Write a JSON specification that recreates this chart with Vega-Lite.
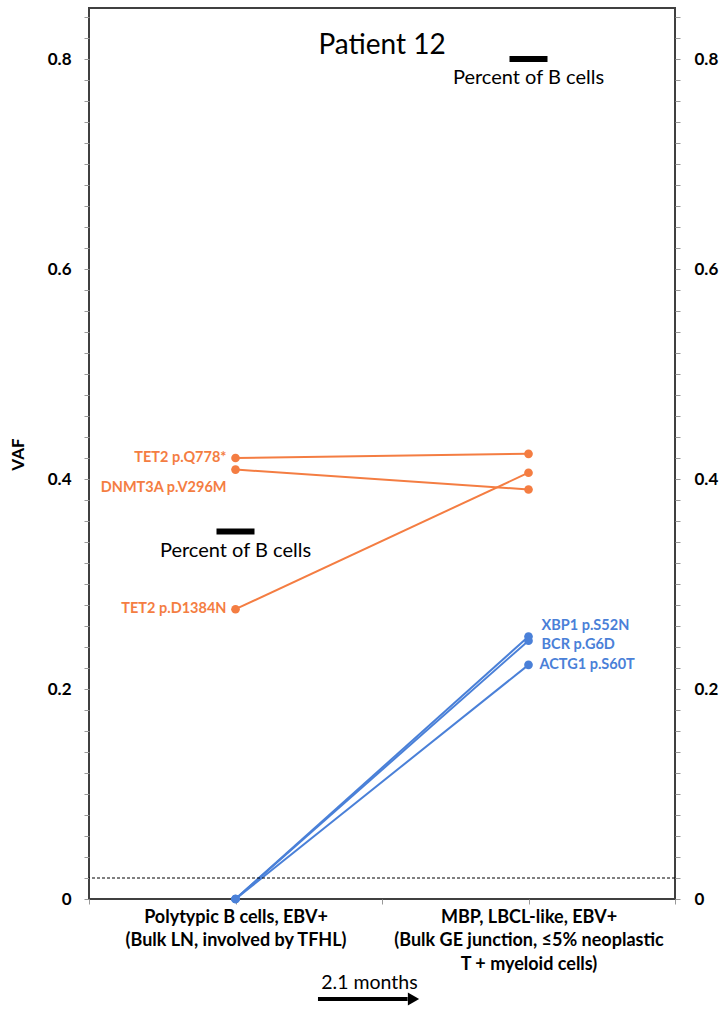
{
  "$schema": "https://vega.github.io/schema/vega-lite/v6.json",
  "width": 586,
  "height": 891,
  "autosize": {"type": "none"},
  "padding": {"left": 89, "top": 8, "right": 50, "bottom": 112},
  "config": {
    "view": {"stroke": "#404040", "strokeWidth": 2},
    "font": "Lato",
    "axis": {"grid": false, "domain": false, "tickColor": "#999999", "tickSize": 5, "labelColor": "#000000", "titleColor": "#000000"}
  },
  "title": {"text": "Patient 12", "offset": -52, "fontSize": 28, "font": "Lato", "fontWeight": "normal", "color": "#000000", "anchor": "middle"},
  "datasets": {
    "vaf": [
      {"mutation": "TET2 p.Q778*", "origin": "clonal hematopoiesis", "stage": 1, "vaf": 0.420},
      {"mutation": "TET2 p.Q778*", "origin": "clonal hematopoiesis", "stage": 3, "vaf": 0.424},
      {"mutation": "DNMT3A p.V296M", "origin": "clonal hematopoiesis", "stage": 1, "vaf": 0.409},
      {"mutation": "DNMT3A p.V296M", "origin": "clonal hematopoiesis", "stage": 3, "vaf": 0.390},
      {"mutation": "TET2 p.D1384N", "origin": "clonal hematopoiesis", "stage": 1, "vaf": 0.276},
      {"mutation": "TET2 p.D1384N", "origin": "clonal hematopoiesis", "stage": 3, "vaf": 0.406},
      {"mutation": "XBP1 p.S52N", "origin": "B cell", "stage": 1, "vaf": 0.0},
      {"mutation": "XBP1 p.S52N", "origin": "B cell", "stage": 3, "vaf": 0.250},
      {"mutation": "BCR p.G6D", "origin": "B cell", "stage": 1, "vaf": 0.0},
      {"mutation": "BCR p.G6D", "origin": "B cell", "stage": 3, "vaf": 0.246},
      {"mutation": "ACTG1 p.S60T", "origin": "B cell", "stage": 1, "vaf": 0.0},
      {"mutation": "ACTG1 p.S60T", "origin": "B cell", "stage": 3, "vaf": 0.223}
    ],
    "bcells": [
      {"stage": 1, "pct_b": 0.35},
      {"stage": 3, "pct_b": 0.80}
    ]
  },
  "resolve": {"axis": {"y": "independent", "x": "independent"}},
  "layer": [
    {
      "data": {"name": "vaf"},
      "mark": {"type": "line", "strokeWidth": 2},
      "encoding": {
        "x": {
          "field": "stage", "type": "quantitative",
          "scale": {"domain": [0, 4], "nice": false, "zero": false},
          "axis": {
            "values": [0, 1, 2, 3, 4],
            "labelExpr": "datum.value == 1 ? ['Polytypic B cells, EBV+', '(Bulk LN, involved by TFHL)'] : datum.value == 3 ? ['MBP, LBCL-like, EBV+', '(Bulk GE junction, ≤5% neoplastic', 'T + myeloid cells)'] : ''",
            "labelFontSize": 18, "labelFontWeight": "bold", "labelLineHeight": 23.5,
            "labelPadding": 4, "labelOverlap": false, "labelBound": false, "labelFlush": false, "labelLimit": 0,
            "labelBaseline": "top",
            "title": "2.1 months", "titleFontSize": 19.5, "titleFontWeight": "normal",
            "titleX": 280, "titleY": 89, "titleBaseline": "alphabetic", "titleAlign": "center"
          }
        },
        "y": {
          "field": "vaf", "type": "quantitative",
          "scale": {"domain": [0, 0.8486], "nice": false, "zero": false},
          "axis": {
            "orient": "left",
            "values": [0,0.02,0.04,0.06,0.08,0.1,0.12,0.14,0.16,0.18,0.2,0.22,0.24,0.26,0.28,0.3,0.32,0.34,0.36,0.38,0.4,0.42,0.44,0.46,0.48,0.5,0.52,0.54,0.56,0.58,0.6,0.62,0.64,0.66,0.68,0.7,0.72,0.74,0.76,0.78,0.8,0.82,0.84],
            "labelExpr": "abs(datum.value*5 - round(datum.value*5)) < 0.001 ? (datum.value == 0 ? '0' : format(datum.value, '.1f')) : ''",
            "labelFontSize": 17, "labelFontWeight": "bold", "labelPadding": 13, "labelOverlap": false,
            "title": "VAF", "titleFontSize": 17, "titleFontWeight": "bold",
            "titleX": -71, "titleY": 446, "titleAngle": -90, "titleAlign": "center", "titleBaseline": "middle"
          }
        },
        "detail": {"field": "mutation"},
        "color": {"field": "origin", "type": "nominal", "scale": {"domain": ["clonal hematopoiesis", "B cell"], "range": ["#F47D42", "#4A80D8"]}, "legend": null}
      }
    },
    {
      "data": {"name": "vaf"},
      "mark": {"type": "circle", "size": 75, "opacity": 1},
      "encoding": {
        "x": {"field": "stage", "type": "quantitative", "axis": null},
        "y": {
          "field": "vaf", "type": "quantitative",
          "axis": {
            "orient": "right",
            "values": [0,0.02,0.04,0.06,0.08,0.1,0.12,0.14,0.16,0.18,0.2,0.22,0.24,0.26,0.28,0.3,0.32,0.34,0.36,0.38,0.4,0.42,0.44,0.46,0.48,0.5,0.52,0.54,0.56,0.58,0.6,0.62,0.64,0.66,0.68,0.7,0.72,0.74,0.76,0.78,0.8,0.82,0.84],
            "labelExpr": "abs(datum.value*5 - round(datum.value*5)) < 0.001 ? (datum.value == 0 ? '0' : format(datum.value, '.1f')) : ''",
            "labelFontSize": 17, "labelFontWeight": "bold", "labelPadding": 14, "labelOverlap": false,
            "title": null
          }
        },
        "color": {"field": "origin", "type": "nominal", "legend": null}
      }
    },
    {
      "data": {"values": [{}]},
      "mark": {"type": "rule", "strokeDash": [3, 2], "color": "#000000", "strokeWidth": 1},
      "encoding": {"y": {"datum": 0.02, "type": "quantitative", "axis": null}}
    },
    {
      "data": {"name": "vaf"},
      "transform": [{"filter": "datum.stage == 1 && datum.origin == 'clonal hematopoiesis' && datum.mutation != 'DNMT3A p.V296M'"}],
      "mark": {"type": "text", "align": "right", "baseline": "middle", "dx": -9, "fontSize": 14.5, "fontWeight": "bold"},
      "encoding": {
        "x": {"field": "stage", "type": "quantitative", "axis": null},
        "y": {"field": "vaf", "type": "quantitative", "axis": null},
        "text": {"field": "mutation"},
        "color": {"field": "origin", "type": "nominal", "legend": null}
      }
    },
    {
      "data": {"name": "vaf"},
      "transform": [{"filter": "datum.stage == 1 && datum.mutation == 'DNMT3A p.V296M'"}],
      "mark": {"type": "text", "align": "right", "baseline": "middle", "dx": -9, "dy": 18, "fontSize": 14.5, "fontWeight": "bold"},
      "encoding": {
        "x": {"field": "stage", "type": "quantitative", "axis": null},
        "y": {"field": "vaf", "type": "quantitative", "axis": null},
        "text": {"field": "mutation"},
        "color": {"field": "origin", "type": "nominal", "legend": null}
      }
    },
    {
      "data": {"name": "vaf"},
      "transform": [{"filter": "datum.stage == 3 && datum.mutation == 'XBP1 p.S52N'"}],
      "mark": {"type": "text", "align": "left", "baseline": "middle", "dx": 13, "dy": -11, "fontSize": 14.5, "fontWeight": "bold"},
      "encoding": {
        "x": {"field": "stage", "type": "quantitative", "axis": null},
        "y": {"field": "vaf", "type": "quantitative", "axis": null},
        "text": {"field": "mutation"},
        "color": {"field": "origin", "type": "nominal", "legend": null}
      }
    },
    {
      "data": {"name": "vaf"},
      "transform": [{"filter": "datum.stage == 3 && datum.mutation == 'BCR p.G6D'"}],
      "mark": {"type": "text", "align": "left", "baseline": "middle", "dx": 13, "dy": 4, "fontSize": 14.5, "fontWeight": "bold"},
      "encoding": {
        "x": {"field": "stage", "type": "quantitative", "axis": null},
        "y": {"field": "vaf", "type": "quantitative", "axis": null},
        "text": {"field": "mutation"},
        "color": {"field": "origin", "type": "nominal", "legend": null}
      }
    },
    {
      "data": {"name": "vaf"},
      "transform": [{"filter": "datum.stage == 3 && datum.mutation == 'ACTG1 p.S60T'"}],
      "mark": {"type": "text", "align": "left", "baseline": "middle", "dx": 11, "dy": 0, "fontSize": 14.5, "fontWeight": "bold"},
      "encoding": {
        "x": {"field": "stage", "type": "quantitative", "axis": null},
        "y": {"field": "vaf", "type": "quantitative", "axis": null},
        "text": {"field": "mutation"},
        "color": {"field": "origin", "type": "nominal", "legend": null}
      }
    },
    {
      "data": {"name": "bcells"},
      "mark": {"type": "tick", "orient": "horizontal", "size": 38, "thickness": 6, "color": "#000000", "opacity": 1},
      "encoding": {
        "x": {"field": "stage", "type": "quantitative", "axis": null},
        "y": {"field": "pct_b", "type": "quantitative", "axis": null}
      }
    },
    {
      "data": {"name": "bcells"},
      "mark": {"type": "text", "align": "center", "baseline": "middle", "dy": 19, "fontSize": 20, "color": "#000000"},
      "encoding": {
        "x": {"field": "stage", "type": "quantitative", "axis": null},
        "y": {"field": "pct_b", "type": "quantitative", "axis": null},
        "text": {"value": "Percent of B cells"}
      }
    },
    {
      "data": {"values": [{}]},
      "mark": {"type": "rule", "strokeWidth": 4, "color": "#000000", "clip": false},
      "encoding": {
        "x": {"datum": 1.563, "type": "quantitative", "axis": null},
        "x2": {"datum": 2.175},
        "y": {"datum": -0.0952, "type": "quantitative", "axis": null}
      }
    },
    {
      "data": {"values": [{}]},
      "mark": {"type": "point", "shape": "triangle-right", "filled": true, "size": 170, "color": "#000000", "opacity": 1, "clip": false},
      "encoding": {
        "x": {"datum": 2.215, "type": "quantitative", "axis": null},
        "y": {"datum": -0.0952, "type": "quantitative", "axis": null}
      }
    }
  ]
}
